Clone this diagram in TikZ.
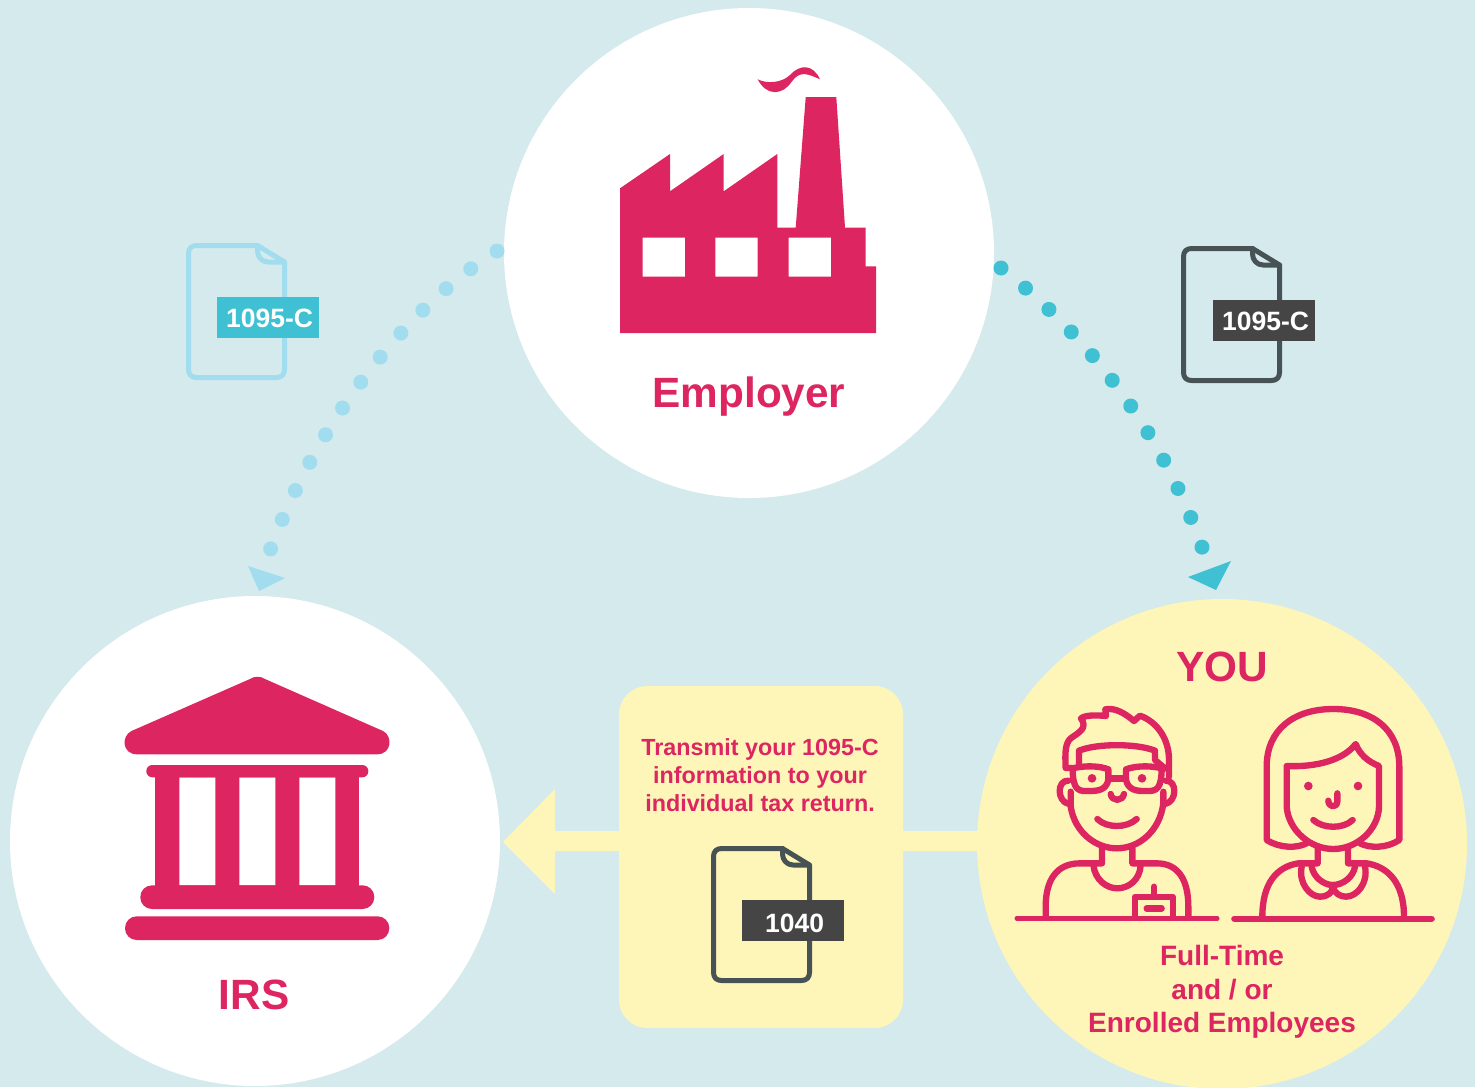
\documentclass[tikz,border=0pt]{standalone}
\usepackage{fontspec}
\setmainfont{Liberation Sans}
\definecolor{bgblue}{HTML}{D5EAED}
\definecolor{creamy}{HTML}{FEF6B9}
\definecolor{crim}{HTML}{DD2561}
\definecolor{paleblue}{HTML}{A2DDEF}
\definecolor{teal}{HTML}{3FC1D3}
\definecolor{docgrey}{HTML}{465254}
\definecolor{taggrey}{HTML}{454545}
\tikzset{
  bigcircle/.style={circle,minimum size=294pt,inner sep=0pt,outer sep=0pt},
  dotline/.style={line width=9pt,line cap=round,dash pattern=on 0pt off 19.02pt},
  lbl/.style={text=crim,font=\bfseries\fontsize{25.4pt}{30pt}\selectfont,inner sep=0pt},
  smalllbl/.style={text=crim,align=center,inner sep=0pt,font=\bfseries\fontsize{14pt}{16.8pt}\selectfont},
  midlbl/.style={text=crim,align=center,inner sep=0pt,font=\bfseries\fontsize{16.8pt}{20.1pt}\selectfont},
  tagbox/.style={minimum width=61.2pt,minimum height=24.6pt,inner sep=0pt,text=white,font=\bfseries\fontsize{15.9pt}{18pt}\selectfont},
  person/.style={draw=crim,line width=3.8pt,line cap=round,line join=round},
}
% #1 left, #2 top of the outer edge, #3 colour
\newcommand{\docicon}[3]{%
  \begin{scope}[shift={(#1,#2)},draw=#3,line width=3pt,line join=round,line cap=round]
    \draw (67,2.5) -- (10.5,2.5) .. controls (5.5,2.5) and (2.5,5.5) .. (2.5,10.5) -- (2.5,126.5)
      .. controls (2.5,131.5) and (5.5,134.5) .. (10.5,134.5) -- (90.5,134.5)
      .. controls (95.5,134.5) and (98.5,131.5) .. (98.5,126.5) -- (98.5,19) -- (71.5,2.5) -- cycle;
    \draw (71.5,2.5) -- (71.5,8) .. controls (71.5,14) and (76,19) .. (82,19) -- (98.5,19);
  \end{scope}}
\begin{document}
\begin{tikzpicture}[x=0.6pt,y=-0.6pt]
\useasboundingbox (0,0) rectangle (1475,1087);
\clip (0,0) rectangle (1475,1087);
\fill[bgblue] (0,0) rectangle (1475,1087);

% anchors
\coordinate (ls) at (497,251);
\coordinate (le) at (269.5,552);
\coordinate (rs) at (1001,268);
\coordinate (re) at (1202.3,548);
\coordinate (arrowbase) at (555,841);

% yellow arrow
\coordinate (youcentre) at (1222,841);
\draw[creamy,line width=12pt] (youcentre) -- (arrowbase);
\fill[creamy] (503,842) -- (555,789) -- (555,894) -- cycle;

% circles
\node[bigcircle,fill=white] (employer) at (749,253) {};
\node[bigcircle,fill=white] (irs) at (255,841) {};
\node[bigcircle,fill=creamy] (you) at (1222,844) {};

% dotted connectors
\draw[dotline,paleblue] (ls) .. controls (413,302) and (318,417) .. (le);
\draw[dotline,teal] (rs) .. controls (1086,334) and (1161,429) .. (re);
\fill[paleblue] (248,566) -- (285,578) -- (259,591) -- cycle;
\fill[teal] (1231,561) -- (1188,577) -- (1216,590) -- cycle;

% factory
\fill[crim,even odd rule] (620,188.3) -- (670,154) -- (670,191.3) -- (723.7,154) -- (723.7,191.3) -- (777.3,154)
  -- (777.3,227.7) -- (795.7,227.7) -- (805.7,97) -- (836.3,97) -- (845,227.7) -- (865.7,227.7)
  -- (865.7,266.3) -- (876,266.3) -- (876,333) -- (620,333) -- cycle
  (642.7,237.7) rectangle (685,276.7)
  (715.3,237.7) rectangle (757.7,276.7)
  (788.7,237.7) rectangle (831,276.7);
\fill[crim] (757.7,79.3) .. controls (766.7,84) and (781.7,83) .. (790,75)
  .. controls (800,64) and (813,64) .. (820,79.3)
  .. controls (808,74) and (800,70) .. (791.7,81.7)
  .. controls (783,95) and (766.7,97) .. cycle;

% IRS building
\fill[crim] (250,679) .. controls (254,676) and (261,676) .. (265,679) -- (383,731)
  .. controls (393,736) and (392,754.3) .. (377,754.3) -- (137,754.3)
  .. controls (122,754.3) and (121,736) .. (131.5,731) -- cycle;
\fill[crim] (155.3,775) rectangle (359.3,890);
\fill[white] (179.3,777.3) rectangle (215.3,885.3)
  (239.3,777.3) rectangle (275.3,885.3)
  (299.3,777.3) rectangle (335.3,885.3);
\fill[crim,rounded corners=3.6pt] (146.3,765) rectangle (368.3,777.3);
\fill[crim,rounded corners=7pt] (140.3,885.3) rectangle (374.3,909);
\fill[crim,rounded corners=7pt] (125,916.3) rectangle (389.3,940);

% people, drawn in 3x coordinates
\begin{scope}[shift={(1000,680)},x=0.2pt,y=-0.2pt]
  % baselines
  \draw[person,line width=2.6pt] (50,715) -- (652,715);
  \draw[person] (703,716) -- (1295,716);
  % man
  \draw[person] (197,262) .. controls (195,220) and (195,190) .. (212,175)
     .. controls (235,158) and (265,145) .. (243,115) .. controls (255,105) and (290,105) .. (318,108)
     -- (316,88) .. controls (345,82) and (375,100) .. (402,123) -- (420,107)
     .. controls (470,125) and (507,175) .. (507,240) -- (507,290);
  \draw[person] (237,258) -- (237,212) .. controls (290,190) and (410,190) .. (465,212) -- (465,240) -- (495,265);
  \draw[person] (197,264) -- (222,264) .. controls (260,256) and (300,258) .. (325,268) -- (325,300)
     .. controls (318,330) and (295,334) .. (260,333) .. controls (232,334) and (218,325) .. (218,264);
  \draw[person] (505,264) -- (482,264) .. controls (445,256) and (405,258) .. (378,268) -- (378,300)
     .. controls (385,330) and (408,334) .. (442,333) .. controls (470,334) and (485,325) .. (485,264);
  \draw[person] (325,295) -- (378,295);
  \fill[crim] (276,295) circle[radius=13] (426,295) circle[radius=13];
  \draw[person] (205,302) .. controls (170,300) and (170,365) .. (207,372);
  \draw[person] (497,302) .. controls (532,300) and (532,365) .. (495,372);
  \draw[person] (332,342) .. controls (335,365) and (368,365) .. (372,342);
  \draw[person] (292,417) .. controls (320,445) and (380,445) .. (410,417);
  \draw[person] (212,335) -- (212,380) .. controls (225,460) and (290,505) .. (350,505)
     .. controls (420,505) and (480,450) .. (490,370) -- (490,335);
  \draw[person] (306,505) -- (306,550) -- (240,550) .. controls (170,550) and (137,600) .. (137,680) -- (137,712);
  \draw[person] (397,505) -- (397,550) -- (470,550) .. controls (535,550) and (565,600) .. (565,680) -- (565,712);
  \draw[person] (280,555) .. controls (285,600) and (320,625) .. (352,625) .. controls (385,625) and (420,600) .. (422,555);
  \draw[person] (405,712) -- (405,650) -- (518,650) -- (518,712);
  \draw[person] (462,620) -- (462,650);
  \draw[person] (440,685) -- (485,685);
  % woman
  \draw[person] (920,490) .. controls (890,505) and (840,505) .. (800,480) -- (800,260)
     .. controls (800,150) and (880,87) .. (1000,87) .. controls (1120,87) and (1198,150) .. (1198,260)
     -- (1198,480) .. controls (1160,505) and (1110,505) .. (1080,490);
  \draw[person] (1137,258) .. controls (1105,245) and (1080,225) .. (1067,192)
     .. controls (1030,240) and (950,262) .. (860,258) -- (860,380)
     .. controls (865,450) and (930,507) .. (1000,507) .. controls (1070,507) and (1135,450) .. (1137,380) -- cycle;
  \fill[crim] (925,318) circle[radius=13] (1074,318) circle[radius=13];
  \draw[person] (1012,340) -- (1012,365) .. controls (1010,385) and (985,382) .. (985,362);
  \draw[person] (940,420) .. controls (970,447) and (1030,447) .. (1058,420);
  \draw[person] (953,505) -- (953,550) -- (895,550) .. controls (830,560) and (787,610) .. (787,710);
  \draw[person] (1044,505) -- (1044,550) -- (1100,550) .. controls (1165,560) and (1212,610) .. (1212,710);
  \draw[person] (935,560) .. controls (940,590) and (970,615) .. (998,615) .. controls (1030,615) and (1060,590) .. (1065,560);
  \draw[person] (905,560) .. controls (895,610) and (930,650) .. (960,650) .. controls (985,650) and (998,635) .. (998,622)
     .. controls (1005,640) and (1020,650) .. (1038,650) .. controls (1070,650) and (1105,610) .. (1095,560);
\end{scope}

% labels
\node[lbl] (emplbl) at (749,397) {Employer};
\node[lbl] (irslbl) at (254,995) {IRS};
\node[lbl] (youlbl) at (1222,667) {YOU};
\node[midlbl] (ftlbl) at (1222,992) {Full-Time\\and / or\\Enrolled Employees};

% transmit box
\fill[creamy,rounded corners=17pt] (619,686) rectangle (903,1028);
\node[smalllbl] (txlbl) at (760,775) {Transmit your 1095-C\\information to your\\individual tax return.};

% documents
\docicon{186}{243}{paleblue}
\node[tagbox,fill=teal] (tagl) at (268,317.5) {\raisebox{-6.1pt}[0pt][0pt]{\hspace*{2pt}1095-C}};
\docicon{1181}{246}{docgrey}
\node[tagbox,fill=taggrey] (tagr) at (1264,320.5) {\raisebox{-5.7pt}[0pt][0pt]{\hspace*{2pt}1095-C}};
\docicon{711}{846}{docgrey}
\node[tagbox,fill=taggrey] (tagb) at (793,920.5) {\raisebox{-7.2pt}[0pt][0pt]{\hspace*{2pt}1040}};
\end{tikzpicture}
\end{document}
